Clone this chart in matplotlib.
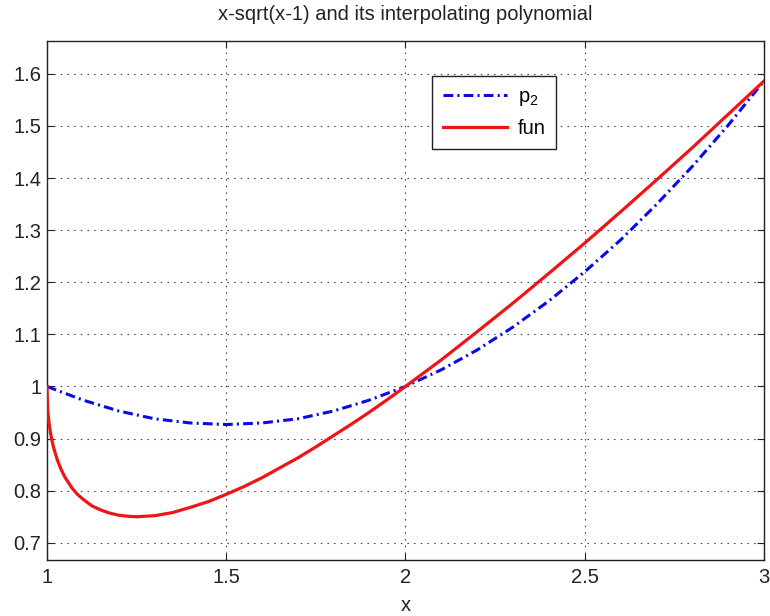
import matplotlib
matplotlib.use("Agg")
import matplotlib.pyplot as plt

plt.rcParams['font.family'] = ['Liberation Sans', 'DejaVu Sans']
plt.rcParams['lines.scale_dashes'] = False

# fun = x - sqrt(x-1)
fun_x = [1.0, 1.002, 1.005, 1.01, 1.015, 1.02, 1.03, 1.04, 1.05, 1.07, 1.085, 1.1,
         1.125, 1.15, 1.175, 1.2, 1.225, 1.25, 1.275, 1.3, 1.35, 1.4, 1.45, 1.5,
         1.55, 1.6, 1.65, 1.7, 1.75, 1.8, 1.85, 1.9, 1.95, 2.0, 2.1, 2.2, 2.3,
         2.4, 2.5, 2.6, 2.7, 2.8, 2.9, 3.0]
fun_y = [1.000, 0.957, 0.934, 0.910, 0.893, 0.879, 0.857, 0.840, 0.826, 0.805, 0.793,
         0.784, 0.771, 0.763, 0.757, 0.753, 0.751, 0.750, 0.751, 0.752, 0.758,
         0.768, 0.779, 0.793, 0.808, 0.825, 0.844, 0.863, 0.884, 0.906, 0.928,
         0.951, 0.975, 1.000, 1.051, 1.105, 1.160, 1.217, 1.275, 1.335, 1.396,
         1.458, 1.522, 1.586]

# p2, values
p2_x = [1.0, 1.1, 1.2, 1.3, 1.4, 1.5, 1.6, 1.7, 1.8, 1.9, 2.0, 2.1, 2.2, 2.3,
        2.4, 2.5, 2.6, 2.7, 2.8, 2.9, 3.0]
p2_y = [1.000, 0.974, 0.953, 0.938, 0.930, 0.927, 0.930, 0.938, 0.953, 0.974, 1.000,
        1.032, 1.070, 1.114, 1.164, 1.220, 1.281, 1.349, 1.422, 1.501, 1.586]

xticks = [1, 1.5, 2, 2.5, 3]
xticklabels = ['1', '1.5', '2', '2.5', '3']
yticks = [0.7, 0.8, 0.9, 1.0, 1.1, 1.2, 1.3, 1.4, 1.5, 1.6]
yticklabels = ['0.7', '0.8', '0.9', '1', '1.1', '1.2', '1.3', '1.4', '1.5', '1.6']

title = 'x-sqrt(x-1) and its interpolating polynomial'
fs = 14.5

fig = plt.figure(figsize=(7.7, 6.16), dpi=100)
ax = fig.add_axes([0.061, 0.0909, 0.931, 0.8425])

ax.plot(p2_x, p2_y, color='#0a0ae6', lw=2.2, dashes=(7, 3, 1.5, 3),
        label=r'$\mathregular{p_2}$', zorder=3)
ax.plot(fun_x, fun_y, color='#ee1515', lw=2.3, label='fun', zorder=4)

ax.set_xlim(1, 3)
ax.set_ylim(0.667, 1.663)
ax.set_xticks(xticks)
ax.set_xticklabels(xticklabels)
ax.set_yticks(yticks)
ax.set_yticklabels(yticklabels)

ax.grid(True, color='#333333', linestyle=(0, (1, 3.8)), linewidth=0.8)
ax.tick_params(direction='in', length=5, width=0.8, top=True, right=True,
               labelsize=fs, pad=4, colors='#222222')
ax.tick_params(axis='x', pad=6)
for s in ax.spines.values():
    s.set_color('#222222')
    s.set_linewidth(1.0)

ax.set_title(title, fontsize=fs, color='#222222', pad=15)
ax.set_xlabel('x', fontsize=fs, color='#222222', labelpad=6)

leg = ax.legend(loc='upper left', bbox_to_anchor=(0.537, 0.933), fontsize=fs,
                fancybox=False, framealpha=1, edgecolor='#222222',
                handlelength=3.2, handletextpad=0.5, borderpad=0.55,
                labelspacing=0.55, borderaxespad=0)
leg.get_frame().set_linewidth(1.0)

fig.savefig('out.png', dpi=100)
